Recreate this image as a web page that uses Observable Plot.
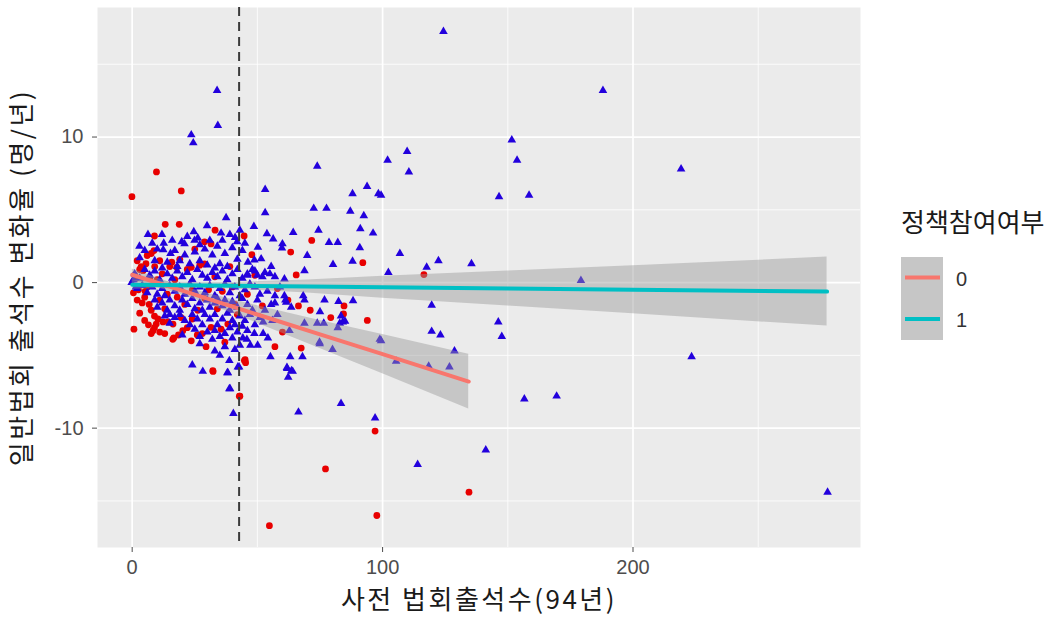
<!DOCTYPE html>
<html>
<head>
<meta charset="utf-8">
<script src="https://cdn.jsdelivr.net/npm/d3@7"></script>
<script src="https://cdn.jsdelivr.net/npm/@observablehq/plot@0.6"></script>
<style>
  body { margin: 0; background: #ffffff; }
  #wrap { position: relative; width: 1063px; height: 618px; font-family: 'Noto Sans CJK KR', 'Noto Sans', sans-serif; }
  #legend { position: absolute; left: 890px; top: 200px; overflow: visible; }
</style>
</head>
<body>
<div id="wrap"></div>
<script>
// ---- data ----
const xTitle = "사전 법회출석수(94년)";
const yTitle = "일반법회 출석수 변화율 (명/년)";
const legendTitle = "정책참여여부";
const groups = ["0", "1"];
const groupColors = ["#F8766D", "#00BFC4"];
const xMajor = [0, 100, 200];
const xMinor = [50, 150, 250];
const yMajor = [-10, 0, 10];
const yMinor = [-15, -5, 5, 15];
const cutoffX = 42.7;

// group 0 (red circles)
const group0 = [
  [-0.1,5.9],[9.7,7.6],[19.6,6.3],[13.2,4.0],[18.8,4.0],[8.9,3.2],[33.1,3.6],[28.9,2.8],[31.5,2.66],
  [44.7,3.2],[47.8,1.92],[63.3,2.1],[71.7,2.9],[65.5,0.53],[92.1,1.37],[116.5,0.55],[0.7,-3.2],
  [54.8,-16.7],[77.2,-12.8],[97.7,-16.0],[97,-10.2],[43,-7.8],[32.3,-6.1],[45.1,-5.3],[45.3,-5.5],
  [29.5,-4.4],[16.6,-3.8],[23.6,-4.0],[57,-4.4],[67.5,-4.5],[93.9,-2.6],[84.6,-1.6],[84.4,-2.15],
  [79.3,-2.4],[71.1,-1.9],[66.4,-1.6],[62.2,-1.2],[134.5,-14.4],
  [7.6,2.0],[8.7,2.2],[6,1.86],[3.6,1.1],[4.3,0.82],[8.3,-3.3],[8.9,-3.1],[7.6,-3.5],[9.6,-2.85],
  [7.6,-1.9],[8.9,-2.3],[10.3,-2.5],[12.3,-2.7],[14.3,-2.7],[16.3,-2.85],[16.2,-3.9],[20.2,-3.3],
  [22,-3.1],[26.2,-1.9],[31.5,-3.07],[35.5,-3.2],[38.2,-2.85],[44.8,-5.36],[32.2,-6.05],[42.8,-7.8],
  [15.8,1.4],[17.8,1.05],[23.6,1.05],[28.9,1.28],
  [1.5,0.3],[2.5,-0.5],[3,0.9],[5,-1],[4,-1.4],[6,-0.3],[2,1.5],[5.5,1.3],[11,1.5],[12,0.6],
  [14,-0.8],[15,1.1],[17,0.2],[19,1.6],[22,0.9],[24,-0.5],[27,1.2],[29,-1.1],[33,0.4],[36,-0.6],
  [39,1.1],[41,-1.5],[25,2.3],[21,-1.5],[11,-1.2],[13,-1.8],[18,-1.0],[10,0.2],[3,-2.1],[5,-2.6],
  [6.5,-2.9],[11,-3.4],[13,-3.5],[18.5,-3.6],[28,-3.5],[24,-2.5],[34,-1.8],[37,-4.1],[40,-0.3],
  [46,-0.8],[49,0.5],[52,-1.6],[58,-0.4],[60,-3.4],[42,-2.2],[1,0.5],[0.5,-0.7],[2,-1.2],
  [4.5,0.9],[7,0.3],[9,1.1],[5.2,-0.6],[6.8,-1.5],[19.5,-2.4],[26,-3.6],[30.5,-0.5]
];

// group 1 (blue triangles)
const group1 = [
  [124.3,17.25],[33.9,13.2],[34.2,10.8],[23.6,10.15],[24.4,9.6],[188,13.2],[151.6,9.8],[153.7,8.4],
  [109.8,9.0],[102,8.4],[110.5,7.6],[146.5,5.9],[158.5,6.0],[99.4,6.0],[219.2,7.8],[106.9,2.0],
  [102.3,0.7],[117.6,1.05],[122.3,1.5],[135.5,1.3],[179.2,0.14],[119.6,-1.56],[119.6,-3.35],
  [123.1,-3.6],[146.2,-2.7],[147.6,-3.7],[128.7,-4.7],[126.7,-5.8],[99.4,-4.0],[223.4,-5.1],
  [156.6,-8.0],[169.5,-7.8],[141.2,-11.5],[114,-12.5],[277.7,-14.4],[105.4,-5.4],[118.4,-5.75],
  [73.9,8.0],[53.1,6.4],[53.1,4.8],[72.5,5.1],[77.6,5.1],[88,6.1],[93.8,6.6],[98.3,6.1],[87.1,4.9],
  [92.5,4.6],[91.1,3.7],[96.2,3.4],[90.9,2.4],[88,1.46],[80.2,1.24],[78.6,2.75],[82.1,2.75],
  [74.4,3.6],[64.3,3.44],[60,2.66],[59.8,2.38],[69.9,1.86],[68.8,0.82],[60.8,0.25],[55.5,1.1],
  [56.3,3.0],[53.8,3.35],[48.6,3.85],[50.2,2.43],[51.5,1.63],[48.8,1.56],[46.2,1.4],
  [97,-9.3],[83.4,-8.3],[66.4,-8.9],[40.4,-9.0],[39.1,-7.3],[24,-5.66],[28.2,-6.1],[38,-6.2],
  [38.8,-5.36],[42.7,-5.8],[37,-4.4],[55.2,-5.1],[63.1,-5.1],[68,-5.1],[61.8,-5.84],[63.6,-6.05],
  [62.3,-6.5],[74.8,-4.1],[80,-4.6],[98.9,-3.9],[88.2,-1.24],[84.1,-2.7],[82.1,-3.1],[76.8,-1.2],
  [68.8,-1.2],[63.5,-1.7],[61.2,-1.2],[55.5,-1.5],[52.3,-2.7],[52.3,-3.5],[54.2,-3.8],[48.8,-3.5],
  [50.1,-4.3],[47.2,-4.3],[45.8,-3.9],[44.2,-3.8],[60.8,-0.9],[61.5,-1.35],[68.3,-0.9],[75,-2.0],
  [82.4,-1.3],[83.4,-2.3],[82.9,-2.8],[85,-2.66],[76.5,-2.8],[73.9,-2.8],[68.8,-2.8],[62.8,-3.3],
  [74.9,-4.2],[61.9,-5.9],[64.1,-6.1],[38.2,-6.2],[38.8,-7.3],[42.2,-5.8],
  [6.3,3.3],[11.9,3.3],[2.9,2.5],[29.9,3.9],[24.6,3.5],[37.5,4.45],[35.5,3.4],[41.1,3.1],[41.9,2.8],
  [22,3.16],[24.9,2.9],[26.2,3.07],[19.8,2.8],[20.9,2.66],[12.6,2.7],[12.4,2.25],[15.3,2.0],
  [3,1.7],[5,2.2],[9,1.5],[10,2.3],[14,1.4],[17,2.2],[18,1.1],[21,1.9],[23,1.3],[25,2.1],[27,1.5],
  [29,2.3],[30,1.2],[32,1.9],[34,2.5],[35,1.3],[37,2.0],[38,1.1],[40,2.4],[42,1.6],[44,2.2],[27,2.6],
  [31,2.9],[36,2.9],[16,2.9],[8,2.7],[19,1.5],[33,1.0],[39,3.3],[43,3.6],[45,2.7],
  [1,0.6],[3,0.3],[5,0.9],[7,0.5],[9,0.8],[11,0.2],[12,1.0],[14,0.6],[16,0.3],[18,0.8],[20,0.4],
  [22,0.7],[24,0.2],[26,0.9],[28,0.5],[30,0.3],[32,0.7],[34,0.4],[36,0.8],[38,0.2],[40,0.6],[42,0.9],
  [44,0.3],[46,0.6],[48,0.9],[50,0.5],[53,0.7],[57,0.4],[47,-0.1],[-0.2,0],
  [2,-0.4],[4,-0.2],[6,-0.7],[8,-0.3],[10,-0.8],[12,-0.4],[13,-0.9],[15,-0.2],[17,-0.6],[19,-0.3],
  [21,-0.8],[23,-0.1],[25,-0.6],[27,-0.3],[29,-0.7],[31,-0.2],[33,-0.9],[35,-0.4],[37,-0.1],[39,-0.7],
  [41,-0.3],[43,-0.9],[45,-0.5],[49,-0.3],[51,-0.8],[54,-0.6],[57,-0.9],[59,-0.3],
  [9,-1.2],[10,-1.7],[12,-1.4],[14,-1.9],[15,-1.2],[17,-1.6],[19,-1.9],[20,-1.2],[22,-1.5],[24,-1.1],
  [25,-1.8],[27,-1.4],[28,-1.9],[30,-1.2],[31,-1.7],[33,-1.4],[34,-1.1],[36,-1.6],[37,-1.2],[39,-1.9],
  [40,-1.3],[42,-1.7],[44,-1.1],[46,-1.5],[48,-1.9],[50,-1.2],[53,-1.9],[57,-1.4],[15,-2.2],
  [13,-2.3],[15,-2.8],[17,-2.4],[19,-2.2],[21,-2.6],[23,-2.9],[24,-2.2],[26,-2.5],[28,-2.9],[29,-2.2],
  [31,-2.5],[33,-2.2],[34,-2.9],[36,-2.5],[38,-2.1],[40,-2.6],[41,-2.9],[43,-2.3],[45,-2.6],[47,-2.2],
  [49,-2.9],[51,-2.4],[56,-2.6],[58,-2.2],
  [20,-3.6],[25,-3.2],[27,-3.7],[30,-3.4],[32,-3.9],[33,-3.3],[35,-3.7],[37,-3.5],[39,-3.1],[40,-3.8],
  [42,-3.4],[44,-3.0],[46,-3.3],[27,-4.2],[33,-4.7],[35,-5.0],[41,-4.6],[43,-4.3],
  [46,0.5],[49,0.8],[52,0.4],[55,0.6],[0.5,0.2],[1.5,-0.3]
];

// fitted lines and confidence bands
const fit0X  = [0, 10, 20, 30, 50, 75, 100, 134.4];
const fit0Y  = [0.54, -0.01, -0.55, -1.10, -2.19, -3.56, -4.92, -6.80];
const fit0Lo = [0.14, -0.33, -0.85, -1.46, -2.79, -4.52, -6.27, -8.68];
const fit0Hi = [0.94, 0.31, -0.25, -0.74, -1.59, -2.60, -3.57, -4.92];
const fit1X  = [0, 20, 40, 70, 100, 150, 200, 277.5];
const fit1Y  = [-0.15, -0.18, -0.22, -0.27, -0.32, -0.41, -0.49, -0.62];
const fit1Lo = [-0.45, -0.38, -0.44, -0.72, -1.07, -1.61, -2.14, -2.99];
const fit1Hi = [0.15, 0.02, 0.00, 0.18, 0.43, 0.79, 1.16, 1.75];

// ---- build tables ----
const pts0 = group0.map(([x, y]) => ({x, y}));
const pts1 = group1.map(([x, y]) => ({x, y}));
const band0 = fit0X.map((x, i) => ({x, y: fit0Y[i], lo: fit0Lo[i], hi: fit0Hi[i]}));
const band1 = fit1X.map((x, i) => ({x, y: fit1Y[i], lo: fit1Lo[i], hi: fit1Hi[i]}));

const font = "'Noto Sans CJK KR', 'Noto Sans', sans-serif";
const tickFont = "'Liberation Sans', Arial, sans-serif";

const plot = Plot.plot({
  width: 1063,
  height: 618,
  marginLeft: 97,
  marginRight: 203,
  marginTop: 7,
  marginBottom: 71,
  style: {fontFamily: font, background: "transparent", overflow: "visible"},
  x: {domain: [-13.85, 290.85]},
  y: {domain: [-18.2, 18.9]},
  marks: [
    Plot.frame({fill: "#EBEBEB", stroke: null}),
    Plot.gridX(xMinor, {stroke: "white", strokeOpacity: 1, strokeWidth: 0.8}),
    Plot.gridY(yMinor, {stroke: "white", strokeOpacity: 1, strokeWidth: 0.8}),
    Plot.gridX(xMajor, {stroke: "white", strokeOpacity: 1, strokeWidth: 1.7}),
    Plot.gridY(yMajor, {stroke: "white", strokeOpacity: 1, strokeWidth: 1.7}),
    Plot.dot(pts0, {x: "x", y: "y", r: 3.4, fill: "#e80000", symbol: "circle"}),
    Plot.dot(pts1, {x: "x", y: "y", r: 3.2, fill: "#2200dd", symbol: "triangle"}),
    Plot.areaY(band0, {x: "x", y1: "lo", y2: "hi", fill: "#999999", fillOpacity: 0.45}),
    Plot.areaY(band1, {x: "x", y1: "lo", y2: "hi", fill: "#999999", fillOpacity: 0.45}),
    Plot.line(band0, {x: "x", y: "y", stroke: groupColors[0], strokeWidth: 4}),
    Plot.line(band1, {x: "x", y: "y", stroke: groupColors[1], strokeWidth: 4}),
    Plot.ruleX([cutoffX], {stroke: "#3a3a3a", strokeWidth: 2, strokeDasharray: "9,6"}),
    Plot.axisX(xMajor, {tickSize: 5, tickPadding: 7, fontSize: 20, color: "#4D4D4D", label: null, tickFormat: d => String(d), className: "tick-x"}),
    Plot.axisY(yMajor, {tickSize: 5, tickPadding: 9, fontSize: 20, color: "#4D4D4D", label: null, tickFormat: d => String(d), className: "tick-y"}),
    Plot.text([xTitle], {text: d => d, frameAnchor: "bottom", textAnchor: "middle", dy: 61, fontSize: 26, fill: "#1a1a1a"}),
    Plot.text([yTitle], {text: d => d, frameAnchor: "left", textAnchor: "middle", dx: -75, rotate: -90, fontSize: 26, fill: "#1a1a1a"})
  ]
});

d3.select(plot).selectAll("text").filter(function() { return this.textContent === yTitle || this.textContent === xTitle; })
  .style("letter-spacing", "2.5px");
d3.select(plot).selectAll("text").filter(function() {
  return xMajor.concat(yMajor).map(String).includes(this.textContent);
}).style("font-family", tickFont);

const wrap = document.getElementById("wrap");
wrap.appendChild(plot);

// legend
const legend = d3.select(wrap).append("svg").attr("id", "legend")
  .attr("width", 173).attr("height", 150);
legend.append("text").attr("x", 11).attr("y", 32).attr("font-size", 26)
  .attr("fill", "#1a1a1a").style("font-family", font).text(legendTitle);
legend.append("rect").attr("x", 11).attr("y", 57).attr("width", 42).attr("height", 83).attr("fill", "#C6C6C6");
groups.forEach((g, i) => {
  const cy = 77.5 + i * 41.5;
  legend.append("line").attr("x1", 15).attr("x2", 50).attr("y1", cy).attr("y2", cy)
    .attr("stroke", groupColors[i]).attr("stroke-width", 4);
  legend.append("text").attr("x", 66).attr("y", cy + 1).attr("dy", "0.36em")
    .attr("font-size", 20).attr("fill", "#333").style("font-family", tickFont).text(g);
});
</script>
</body>
</html>
